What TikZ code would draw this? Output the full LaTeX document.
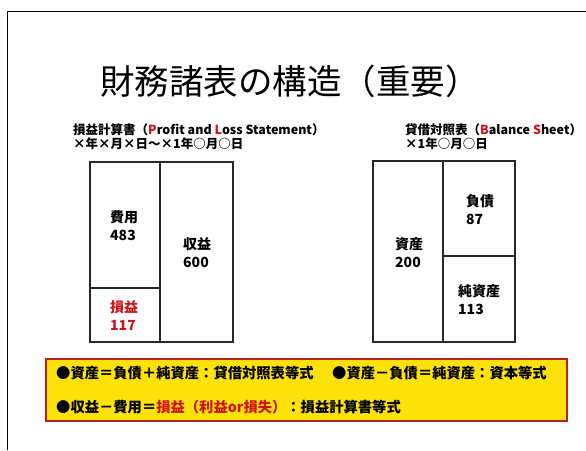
\documentclass[tikz,border=0pt]{standalone}
\usepackage{fontspec}
\setmainfont{Noto Sans CJK JP}
\newfontfamily\jp{Noto Sans CJK JP}
\definecolor{redtxt}{RGB}{205,20,25}
\definecolor{boxfill}{RGB}{252,226,8}
\definecolor{boxline}{RGB}{185,30,35}
\definecolor{tabline}{RGB}{40,40,40}
\tikzset{
  tbl/.style={draw=tabline, line width=1.1pt},
  lbl/.style={anchor=west, align=left, inner sep=0pt, font=\jp\bfseries\fontsize{14}{18}\selectfont},
  hdr/.style={anchor=west, inner sep=0pt, font=\jp\bfseries\fontsize{12.5}{14}\selectfont},
  eq/.style={anchor=west, inner sep=0pt, font=\jp\bfseries\fontsize{14.3}{16}\selectfont},
}
\begin{document}
\begin{tikzpicture}[x=1pt,y=-1pt]
\useasboundingbox (0,0) rectangle (586,450);
\fill[white] (0,0) rectangle (586,450);
% outer frame
\draw[line width=1.4pt] (7.5,450) -- (7.5,11.5) -- (586,11.5);
% title
\node[anchor=center, inner sep=0pt, font=\jp\fontsize{34.5}{38}\selectfont] (title) at (290,81) {財務諸表の構造（重要）};
% headers
\node[hdr] (plh) at (73,130) {損益計算書（\textcolor{redtxt}{P}rofit and \textcolor{redtxt}{L}oss Statement）};
\node[hdr] (pld) at (73,144) {×年×月×日～×1年○月○日};
\node[hdr] (bsh) at (405,130) {貸借対照表（\textcolor{redtxt}{B}alance \textcolor{redtxt}{S}heet）};
\node[hdr] (bsd) at (405,144) {×1年○月○日};
% P/L table
\draw[tbl] (90,162) rectangle (233,342);
\draw[tbl] (160,162) -- (160,342);
\draw[tbl] (90,288) -- (160,288);
\node[lbl] (cost) at (110,226) {費用\\483};
\node[lbl] (rev) at (183,253) {収益\\600};
\node[lbl, text=redtxt] (pl) at (110,316) {損益\\117};
% B/S table
\draw[tbl] (373,161) rectangle (515,342);
\draw[tbl] (443,161) -- (443,342);
\draw[tbl] (443,256) -- (515,256);
\node[lbl] (asset) at (395,253) {資産\\200};
\node[lbl] (liab) at (466,210) {負債\\87};
\node[lbl] (eqty) at (458,300) {純資産\\113};
% equation box
\draw[fill=boxfill, draw=boxline, line width=1.8pt] (46,359) rectangle (567,421);
\node[eq] (e1) at (56,373) {●資産＝負債＋純資産：貸借対照表等式};
\node[eq] (e2) at (332,373) {●資産－負債＝純資産：資本等式};
\node[eq] (e3) at (56,407) {●収益－費用＝\textcolor{redtxt}{損益（利益or損失）}：損益計算書等式};
\end{tikzpicture}
\end{document}
